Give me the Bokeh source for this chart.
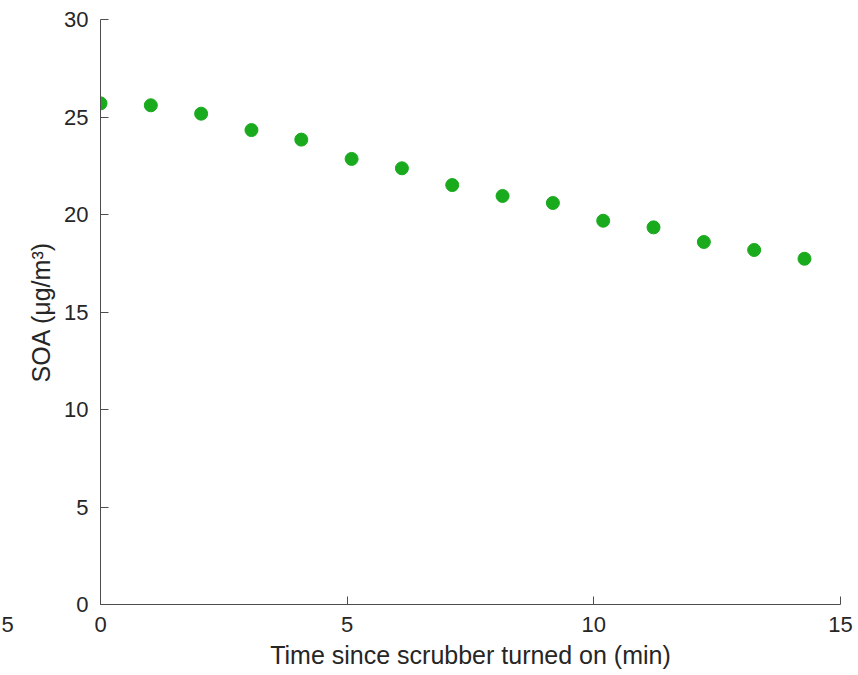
from bokeh.plotting import figure
from bokeh.layouts import row
from bokeh.models import Range1d, FixedTicker, ColumnDataSource
from bokeh.embed import file_html
from bokeh.resources import INLINE

# Data
time_min = [0.0, 1.02, 2.04, 3.06, 4.07, 5.09, 6.11, 7.13, 8.15, 9.17, 10.19, 11.21, 12.23, 13.25, 14.27]
soa = [25.70, 25.60, 25.17, 24.33, 23.84, 22.85, 22.37, 21.51, 20.95, 20.59, 19.68, 19.34, 18.59, 18.18, 17.73]
x_ticks = [0, 5, 10, 15]
y_ticks = [0, 5, 10, 15, 20, 25, 30]
stray_labels = ["5"]

FONT = "Liberation Sans"
TXT = "#262626"
AX = "#4d4d4d"
H = 675
SIDE_W = 20


def style_axis(ax, ticks):
    ax.ticker = FixedTicker(ticks=ticks)
    ax.minor_tick_line_color = None
    ax.major_tick_in = 8
    ax.major_tick_out = 0
    ax.axis_line_color = AX
    ax.major_tick_line_color = AX
    ax.major_label_text_font = FONT
    ax.major_label_text_font_size = "22px"
    ax.major_label_text_color = TXT
    ax.axis_label_text_font = FONT
    ax.axis_label_text_font_size = "25px"
    ax.axis_label_text_font_style = "normal"
    ax.axis_label_text_color = TXT


# main plot
p = figure(width=858 - SIDE_W, height=H, output_backend="svg", toolbar_location=None,
           x_range=Range1d(0, 15), y_range=Range1d(0, 30),
           min_border_left=100 - SIDE_W, min_border_right=18, min_border_top=19, min_border_bottom=71)
p.outline_line_color = None
p.grid.visible = False
p.background_fill_color = "white"
p.border_fill_color = "white"

src = ColumnDataSource(dict(x=time_min, y=soa))
p.scatter("x", "y", source=src, size=13, fill_color="#1aaa1e", line_color="#1aaa1e")

style_axis(p.xaxis[0], x_ticks)
style_axis(p.yaxis[0], y_ticks)
p.xaxis.axis_label = "Time since scrubber turned on (min)"
p.yaxis.axis_label = "SOA (\u03bcg/m\u00b3)"
p.xaxis.major_label_standoff = 12
p.yaxis.major_label_standoff = 12
p.xaxis.axis_label_standoff = 6
p.yaxis.axis_label_standoff = 6

# narrow strip at the far left holding the stray tick label (as an axis label below it)
side = figure(width=SIDE_W, height=H, output_backend="svg", toolbar_location=None,
              x_range=Range1d(0, SIDE_W), y_range=Range1d(0, 1), y_axis_type=None,
              min_border_left=0, min_border_right=0, min_border_top=19, min_border_bottom=71)
side.outline_line_color = None
side.grid.visible = False
side.background_fill_color = "white"
side.border_fill_color = "white"
sax = side.xaxis[0]
style_axis(sax, [7])
sax.major_label_overrides = {7: stray_labels[0]}
sax.axis_line_color = None
sax.major_tick_line_color = None
sax.major_tick_in = 0
sax.major_label_standoff = 12

layout = row(side, p, spacing=0)
open("out.html", "w").write(file_html(layout, INLINE))
